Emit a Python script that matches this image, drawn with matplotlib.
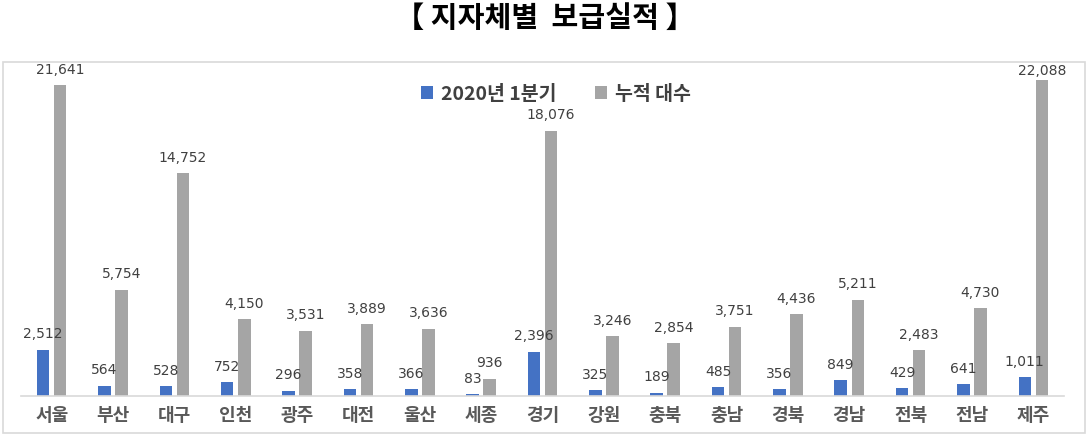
import matplotlib.pyplot as plt
import numpy as np
from matplotlib.patches import Rectangle

plt.rcParams['font.family'] = ['Noto Sans CJK KR', 'DejaVu Sans']

# Data
regions = ['서울', '부산', '대구', '인천', '광주', '대전', '울산', '세종', '경기',
           '강원', '충북', '충남', '경북', '경남', '전북', '전남', '제주']
q1_2020 = [2512, 564, 528, 752, 296, 358, 366, 83, 2396,
           325, 189, 485, 356, 849, 429, 641, 1011]
cumulative = [21641, 5754, 14752, 4150, 3531, 3889, 3636, 936, 18076,
              3246, 2854, 3751, 4436, 5211, 2483, 4730, 22088]

blue = '#4472C4'
gray = '#A5A5A5'
text_col = '#404040'

# the original chart squeezes the tall bars: linear up to 6000, flatter above
brk, k = 6000, 0.69


def fwd(v):
    v = np.asarray(v, dtype=float)
    return np.where(v <= brk, v, brk + (v - brk) * k)


def inv(t):
    t = np.asarray(t, dtype=float)
    return np.where(t <= brk, t, brk + (t - brk) / k)


fig = plt.figure(figsize=(10.88, 4.37), dpi=100)
W, H = 1088, 437

# Chart border
fig.patches.append(Rectangle((3 / W, 1 - 433 / H), 1082 / W, 371 / H,
                             transform=fig.transFigure, fill=False,
                             edgecolor='#D9D9D9', linewidth=1.2))

fig.text(545 / W, 1 - 18 / H, '【 지자체별  보급실적 】', ha='center', va='center',
         fontsize=21, fontweight='bold', color='black')

ax = fig.add_axes([21 / W, 1 - 396 / H, 1043 / W, (396 - 52.6) / H])
ax.set_yscale('function', functions=(fwd, inv))
x = np.arange(len(regions))
w = 0.205
off = 0.139
b1 = ax.bar(x - off, q1_2020, w, color=blue, label='2020년 1분기')
b2 = ax.bar(x + off, cumulative, w, color=gray, label='누적 대수')

top_val = max(cumulative)
for bars, vals in [(b1, q1_2020), (b2, cumulative)]:
    for rect, v in zip(bars, vals):
        dy = 1 if v == top_val else 6  # tallest label squeezed under the frame
        ax.annotate(f'{v:,}', (rect.get_x() + rect.get_width() / 2, v),
                    textcoords='offset points', xytext=(0, dy), ha='center', va='bottom',
                    fontsize=10, color=text_col, family='DejaVu Sans', zorder=5)

ax.set_xlim(-0.5, len(regions) - 0.5)
ax.set_ylim(0, 24200)
ax.set_xticks(x)
ax.set_xticklabels(regions, fontsize=13, fontweight='bold', color='#595959')
ax.tick_params(axis='x', length=0, pad=7)
ax.set_yticks([])
ax.minorticks_off()
for s in ['top', 'right', 'left']:
    ax.spines[s].set_visible(False)
ax.spines['bottom'].set_color('#D9D9D9')
ax.spines['bottom'].set_linewidth(1.2)

leg = fig.legend(loc='center', bbox_to_anchor=(556 / W, 1 - 94 / H), ncol=2,
                 frameon=False, handlelength=0.6, handleheight=0.6,
                 columnspacing=2.0, handletextpad=0.4,
                 prop={'size': 14, 'weight': 'bold'})
for t in leg.get_texts():
    t.set_color(text_col)

plt.savefig('out.png', dpi=100)
